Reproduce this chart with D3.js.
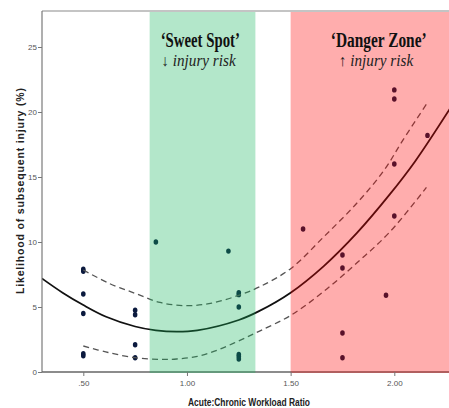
<!DOCTYPE html>
<html>
<head>
<meta charset="utf-8">
<script src="https://cdn.jsdelivr.net/npm/d3@7/dist/d3.min.js"></script>
<style>
  html, body { margin: 0; padding: 0; background: #fff; }
  svg { display: block; }
</style>
</head>
<body>
<svg id="chart" width="449" height="408"></svg>
<script>
// ---------------- data ----------------
const pointX = [0.5, 0.5, 0.5, 0.5, 0.5, 0.5,
                0.75, 0.75, 0.75, 0.75,
                0.85, 1.2,
                1.25, 1.25, 1.25, 1.25, 1.25, 1.25,
                1.56, 1.75, 1.75, 1.75, 1.75, 1.96,
                2.0, 2.0, 2.0, 2.0, 2.16];
const pointY = [7.9, 7.75, 6.0, 4.5, 1.4, 1.25,
                4.75, 4.4, 2.1, 1.1,
                10.0, 9.3,
                6.1, 5.95, 5.0, 1.35, 1.2, 1.0,
                11.0, 9.0, 8.0, 3.0, 1.1, 5.9,
                21.7, 21.0, 16.0, 12.0, 18.2];

const fitX = [0.30, 0.40, 0.50, 0.61, 0.75, 0.85, 0.95, 1.05, 1.25, 1.35, 1.50, 1.66, 1.82, 1.98, 2.10, 2.27];
const fitY = [7.2, 6.1, 5.15, 4.25, 3.5, 3.2, 3.1, 3.2, 4.0, 4.7, 6.1, 8.15, 10.7, 13.7, 16.2, 20.3];

const upperX = [0.50, 0.62, 0.75, 0.87, 1.00, 1.12, 1.25, 1.35, 1.50, 1.66, 1.82, 1.95, 2.04, 2.155];
const upperY = [7.85, 6.85, 6.05, 5.35, 5.1, 5.3, 5.9, 6.55, 7.95, 10.4, 13.0, 15.5, 17.8, 20.6];

const lowerX = [0.50, 0.62, 0.75, 0.87, 0.95, 1.05, 1.15, 1.25, 1.35, 1.50, 1.66, 1.82, 1.98, 2.155];
const lowerY = [2.0, 1.5, 1.1, 0.97, 1.0, 1.2, 1.7, 2.4, 3.15, 4.35, 6.2, 8.4, 10.8, 14.2];

const zoneNames = ["\u2018Sweet Spot\u2019", "\u2018Danger Zone\u2019"];
const zoneSubs = ["\u2193 injury risk", "\u2191 injury risk"];
const zoneStart = [0.82, 1.5];
const zoneEnd = [1.33, 2.4];

const xTicks = [0.5, 1.0, 1.5, 2.0];
const xTickLabels = [".50", "1.00", "1.50", "2.00"];
const yTicks = [0, 5, 10, 15, 20, 25];
const xTitle = "Acute:Chronic Workload Ratio";
const yTitle = "Likelihood of subsequent injury (%)";

// ---------------- layout ----------------
const svg = d3.select("#chart");
const pLeft = 42, pRight = 449, pTop = 11, pBottom = 372;

const x = d3.scaleLinear().domain([0.5, 2.0]).range([83.3, 394.3]);
const y = d3.scaleLinear().domain([0, 25]).range([372, 47]);

svg.append("defs").append("clipPath").attr("id", "plotclip")
  .append("rect").attr("x", pLeft).attr("y", pTop).attr("width", pRight - pLeft).attr("height", pBottom - pTop);

const plot = svg.append("g").attr("clip-path", "url(#plotclip)");

// points
plot.selectAll("ellipse.pt").data(pointX.map((d, i) => [d, pointY[i]]))
  .enter().append("ellipse").attr("class", "pt")
  .attr("cx", d => x(d[0])).attr("cy", d => y(d[1]))
  .attr("rx", 2.3).attr("ry", 2.7)
  .attr("fill", "#0b1a3e");

// lines
const lineGen = d3.line().x(d => x(d[0])).y(d => y(d[1])).curve(d3.curveCatmullRom.alpha(0.5));
plot.append("path").datum(fitX.map((d, i) => [d, fitY[i]]))
  .attr("d", lineGen).attr("fill", "none").attr("stroke", "#111").attr("stroke-width", 1.8);
plot.append("path").datum(upperX.map((d, i) => [d, upperY[i]]))
  .attr("d", lineGen).attr("fill", "none").attr("stroke", "#555").attr("stroke-width", 1.3)
  .attr("stroke-dasharray", "6,4");
plot.append("path").datum(lowerX.map((d, i) => [d, lowerY[i]]))
  .attr("d", lineGen).attr("fill", "none").attr("stroke", "#555").attr("stroke-width", 1.3)
  .attr("stroke-dasharray", "6,4");

// axes lines
svg.append("line").attr("x1", pLeft).attr("x2", pRight).attr("y1", pTop).attr("y2", pTop)
  .attr("stroke", "#8a8a8a").attr("stroke-width", 1.2);
svg.append("line").attr("x1", pLeft).attr("x2", pLeft).attr("y1", pTop).attr("y2", pBottom)
  .attr("stroke", "#7a7a7a").attr("stroke-width", 1.2);
svg.append("line").attr("x1", pLeft).attr("x2", pRight).attr("y1", pBottom).attr("y2", pBottom)
  .attr("stroke", "#666").attr("stroke-width", 1.5);

// bands (translucent overlays on top, tinting points and lines)
const bandColors = ["rgb(20,180,90)", "rgb(255,0,0)"];
svg.selectAll("rect.band").data(zoneStart.map((d, i) => [d, zoneEnd[i]]))
  .enter().append("rect").attr("class", "band")
  .attr("x", d => x(d[0]))
  .attr("width", d => Math.min(pRight, x(d[1])) - x(d[0]))
  .attr("y", pTop + 1).attr("height", pBottom - pTop)
  .attr("fill", (d, i) => bandColors[i]).attr("fill-opacity", 0.32);

// y axis
const yAxis = svg.append("g").attr("transform", `translate(${pLeft},0)`)
  .call(d3.axisLeft(y).tickValues(yTicks).tickSize(4).tickPadding(1).tickFormat(d3.format("d")));
yAxis.select(".domain").remove();
yAxis.selectAll("line").attr("stroke", "#777");
yAxis.selectAll("text").attr("fill", "#555")
  .style("font-family", "'Liberation Sans Narrow','Arial Narrow','Liberation Sans',sans-serif")
  .style("font-size", "8px");

// x axis
const xAxis = svg.append("g").attr("transform", `translate(0,${pBottom})`)
  .call(d3.axisBottom(x).tickValues(xTicks).tickSize(4).tickPadding(4)
    .tickFormat((d, i) => xTickLabels[i]));
xAxis.select(".domain").remove();
xAxis.selectAll("line").attr("stroke", "#777");
xAxis.selectAll("text").attr("fill", "#555")
  .style("font-family", "'Liberation Sans Narrow','Arial Narrow','Liberation Sans',sans-serif")
  .style("font-size", "8px");

// titles
svg.append("text").text(xTitle)
  .attr("x", 249).attr("y", 405.5).attr("text-anchor", "middle")
  .attr("textLength", 122).attr("lengthAdjust", "spacingAndGlyphs")
  .style("font-family", "'Liberation Sans',Arial,sans-serif").style("font-weight", "bold")
  .style("font-size", "10px").attr("fill", "#222");

svg.append("text").text(yTitle)
  .attr("transform", "translate(24,191) rotate(-90)").attr("text-anchor", "middle")
  .attr("textLength", 206).attr("lengthAdjust", "spacing")
  .style("font-family", "'Liberation Sans',Arial,sans-serif").style("font-weight", "bold")
  .style("font-size", "10.5px").attr("fill", "#222");

// zone annotations (horizontally condensed serif)
const headCx = [200.3, 378.7], headScale = [0.74, 0.77];
const subCx = [198.5, 376], subScale = [0.95, 0.95];
zoneNames.forEach((t, i) => {
  svg.append("text").text(t)
    .attr("transform", `translate(${headCx[i]},46.5) scale(${headScale[i]},1)`)
    .attr("text-anchor", "middle")
    .style("font-family", "'Liberation Serif','Times New Roman',serif").style("font-weight", "bold")
    .style("font-size", "20px").attr("fill", "#111");
  svg.append("text").text(zoneSubs[i])
    .attr("transform", `translate(${subCx[i]},66) scale(${subScale[i]},1)`)
    .attr("text-anchor", "middle")
    .style("font-family", "'Liberation Serif','Times New Roman',serif").style("font-style", "italic")
    .style("font-size", "16px").attr("fill", "#222");
});
</script>
</body>
</html>
